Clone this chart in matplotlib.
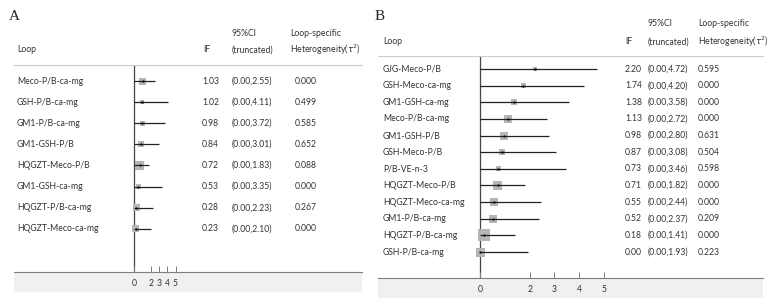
import matplotlib
matplotlib.use('Agg')
import matplotlib.pyplot as plt
from matplotlib.patches import Rectangle
from matplotlib.transforms import blended_transform_factory

plt.rcParams['font.family'] = ['Lato', 'DejaVu Sans']

# panel A data
a_loops = ['Meco-P/B-ca-mg', 'GSH-P/B-ca-mg', 'GM1-P/B-ca-mg', 'GM1-GSH-P/B',
           'HQGZT-Meco-P/B', 'GM1-GSH-ca-mg', 'HQGZT-P/B-ca-mg', 'HQGZT-Meco-ca-mg']
a_if = [1.03, 1.02, 0.98, 0.84, 0.72, 0.53, 0.28, 0.23]
a_lo = [0.00, 0.00, 0.00, 0.00, 0.00, 0.00, 0.00, 0.00]
a_hi = [2.55, 4.11, 3.72, 3.01, 1.83, 3.35, 2.23, 2.10]
a_tau = ['0.000', '0.499', '0.585', '0.652', '0.088', '0.000', '0.267', '0.000']
a_weight = [7, 4, 5, 6, 9, 5, 7, 7]

# panel B data
b_loops = ['GJG-Meco-P/B', 'GSH-Meco-ca-mg', 'GM1-GSH-ca-mg', 'Meco-P/B-ca-mg',
           'GM1-GSH-P/B', 'GSH-Meco-P/B', 'P/B-VE-n-3', 'HQGZT-Meco-P/B',
           'HQGZT-Meco-ca-mg', 'GM1-P/B-ca-mg', 'HQGZT-P/B-ca-mg', 'GSH-P/B-ca-mg']
b_if = [2.20, 1.74, 1.38, 1.13, 0.98, 0.87, 0.73, 0.71, 0.55, 0.52, 0.18, 0.00]
b_lo = [0.00] * 12
b_hi = [4.72, 4.20, 3.58, 2.72, 2.80, 3.08, 3.46, 1.82, 2.44, 2.37, 1.41, 1.93]
b_tau = ['0.595', '0.000', '0.000', '0.000', '0.631', '0.504', '0.598', '0.000',
         '0.000', '0.209', '0.000', '0.223']
b_weight = [4, 5, 6, 8, 8, 6, 5, 9, 8, 8, 12, 9]

ticks = [0, 2, 3, 4, 5]

W, H = 769, 299
fig = plt.figure(figsize=(W / 100, H / 100), dpi=100)
FS = 6.2
TXT = '#333333'


def fx(x):
    return x / W


def fy(y):
    return 1 - y / H


def panel(letter, loops, iff, lo, hi, tau, weight, box, zero, unit, rows, cols, heads):
    x0, x1, ytop, ybot = box
    r0, step = rows
    ax = fig.add_axes([fx(x0), fy(ybot), fx(x1 - x0), (ybot - ytop) / H])
    ax.set_xlim((x0 - zero) / unit, (x1 - zero) / unit)
    ax.set_ylim((ybot - r0) / step, (ytop - r0) / step)
    ax.patch.set_alpha(0)
    for s in ['left', 'right']:
        ax.spines[s].set_visible(False)
    ax.spines['top'].set_color('#cccccc')
    ax.spines['top'].set_linewidth(0.8)
    ax.spines['bottom'].set_color('#7f7f7f')
    ax.spines['bottom'].set_linewidth(0.8)
    ax.set_yticks([])
    ax.set_xticks(ticks)
    ax.tick_params(axis='x', direction='in', length=4, width=0.7, color='#7f7f7f',
                   labelsize=FS, labelcolor=TXT, pad=5)
    ax.axvline(0, color='#444444', lw=0.9, zorder=1)

    y = list(range(len(loops)))
    ax.scatter(iff, y, marker='s', s=[(w * 0.72) ** 2 for w in weight],
               color='#b5b5b5', zorder=2, linewidths=0)
    ax.hlines(y, lo, hi, color='#222222', lw=0.9, zorder=3)
    ax.scatter(iff, y, marker='o', s=2.5, color='black', zorder=4, linewidths=0)

    tr = blended_transform_factory(fig.transFigure, ax.transData)
    cl, ci, cc, ct = cols
    for i in y:
        ax.text(fx(cl), i, loops[i], transform=tr, va='center', fontsize=FS, color=TXT)
        ax.text(fx(ci), i, f'{iff[i]:.2f}', transform=tr, va='center', fontsize=FS, color=TXT)
        ax.text(fx(cc), i, f'({lo[i]:.2f},{hi[i]:.2f})', transform=tr, va='center',
                fontsize=FS, color=TXT)
        ax.text(fx(ct), i, tau[i], transform=tr, va='center', fontsize=FS, color=TXT)

    h1, h2, hx_ci, hx_tau, lx = heads
    fig.text(fx(lx[0]), fy(h2), 'Loop', va='center', fontsize=FS, color=TXT)
    fig.text(fx(lx[1]), fy(h2), 'IF', va='center', fontsize=FS, color=TXT)
    fig.text(fx(hx_ci), fy(h1), '95%CI', va='center', fontsize=FS, color=TXT)
    fig.text(fx(hx_ci), fy(h2), '(truncated)', va='center', fontsize=FS, color=TXT)
    fig.text(fx(hx_tau), fy(h1), 'Loop-specific', va='center', fontsize=FS, color=TXT)
    fig.text(fx(hx_tau), fy(h2), r'Heterogeneity($\tau^{2}$)', va='center', fontsize=FS,
             color=TXT)
    fig.text(fx(letter[1]), fy(17), letter[0], va='center', fontsize=11,
             family='Liberation Serif', color='#222222')

    fig.patches.append(Rectangle((fx(x0), fy(ybot + 20)), fx(x1 - x0), 20 / H,
                                 transform=fig.transFigure, color='#f0f0f0',
                                 zorder=-1, lw=0))
    return ax


panel(('A', 9), a_loops, a_if, a_lo, a_hi, a_tau, a_weight,
      box=(14, 362, 65, 272), zero=134, unit=8.3, rows=(81, 21.1),
      cols=(17, 202, 232, 295), heads=(33, 50, 232, 290, (17, 203)))
panel(('B', 375), b_loops, b_if, b_lo, b_hi, b_tau, b_weight,
      box=(378, 763, 56, 278), zero=480, unit=24.8, rows=(69, 16.64),
      cols=(383, 625, 648, 698), heads=(24, 42, 648, 698, (383, 625)))

fig.savefig('out.png', dpi=100)
